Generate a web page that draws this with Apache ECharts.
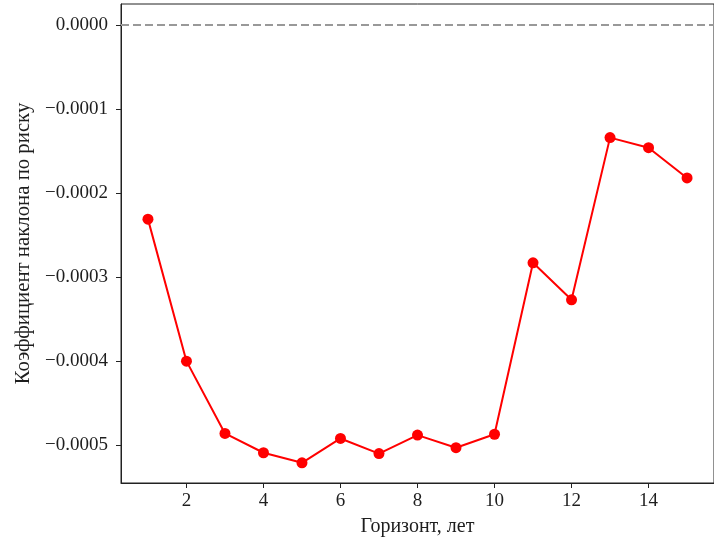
<!DOCTYPE html>
<html>
<head>
<meta charset="utf-8">
<script src="https://cdn.jsdelivr.net/npm/echarts@6/dist/echarts.min.js"></script>
<style>
  html, body { margin: 0; padding: 0; background: #ffffff; }
  #chart { width: 714px; height: 543px; }
</style>
</head>
<body>
<div id="chart"></div>
<script>
// Horizon (years) and the fitted risk-slope coefficient at each horizon
const horizons = [1, 2, 3, 4, 5, 6, 7, 8, 9, 10, 11, 12, 13, 14, 15];
const slopeCoef = [
  -0.000231, -0.000400, -0.000486, -0.000509, -0.000521,
  -0.000492, -0.000510, -0.000488, -0.000503, -0.000487,
  -0.000283, -0.000327, -0.000134, -0.000146, -0.000182
];
const xTicks = [2, 4, 6, 8, 10, 12, 14];
const yTicks = [0, -0.0001, -0.0002, -0.0003, -0.0004, -0.0005];
const referenceLevel = 0;
const xTitle = 'Горизонт, лет';
const yTitle = 'Коэффициент наклона по риску';

const FONT = '"Liberation Serif", "DejaVu Serif", serif';
const TEXT_COLOR = '#1e1e1e';

function fmtY(v) {
  const s = Math.abs(v).toFixed(4);
  return (v < -1e-12 ? '\u2212' : '') + s;
}

const chart = echarts.init(document.getElementById('chart'), null, { renderer: 'canvas' });

chart.setOption({
  animation: false,
  backgroundColor: '#ffffff',
  grid: {
    left: 121, top: 4, width: 594, height: 479,
    show: true, borderColor: '#222222', borderWidth: 1,
    backgroundColor: 'transparent'
  },
  xAxis: {
    type: 'value',
    min: 0.3, max: 15.7,
    splitLine: { show: false },
    axisLine: { show: true, onZero: false, lineStyle: { color: '#222222', width: 1 } },
    axisTick: { show: true, length: 5, inside: false, customValues: xTicks, lineStyle: { color: '#222222', width: 1 } },
    axisLabel: {
      customValues: xTicks, margin: 9,
      fontFamily: FONT, fontSize: 19, color: TEXT_COLOR,
      formatter: v => String(v)
    },
    name: xTitle, nameLocation: 'middle', nameGap: 34,
    nameTextStyle: { fontFamily: FONT, fontSize: 20, color: TEXT_COLOR }
  },
  yAxis: {
    type: 'value',
    min: -0.000545, max: 0.000025,
    splitLine: { show: false },
    axisLine: { show: true, onZero: false, lineStyle: { color: '#222222', width: 1 } },
    axisTick: { show: true, length: 5, inside: false, customValues: yTicks, lineStyle: { color: '#222222', width: 1 } },
    axisLabel: {
      customValues: yTicks, margin: 13,
      fontFamily: FONT, fontSize: 19, color: TEXT_COLOR,
      formatter: v => fmtY(v)
    },
    name: yTitle, nameLocation: 'middle', nameGap: 84, nameRotate: 90,
    nameTextStyle: { fontFamily: FONT, fontSize: 20.8, color: TEXT_COLOR }
  },
  series: [{
    type: 'line',
    data: horizons.map((h, i) => [h, slopeCoef[i]]),
    symbol: 'circle',
    symbolSize: 11,
    showAllSymbol: true,
    lineStyle: { color: '#ff0000', width: 2 },
    itemStyle: { color: '#ff0000' },
    emphasis: { disabled: true },
    markLine: {
      silent: true,
      symbol: ['none', 'none'],
      label: { show: false },
      lineStyle: { color: '#999999', width: 2, type: [8, 4] },
      data: [{ yAxis: referenceLevel }]
    },
    z: 3
  }]
});
</script>
</body>
</html>
